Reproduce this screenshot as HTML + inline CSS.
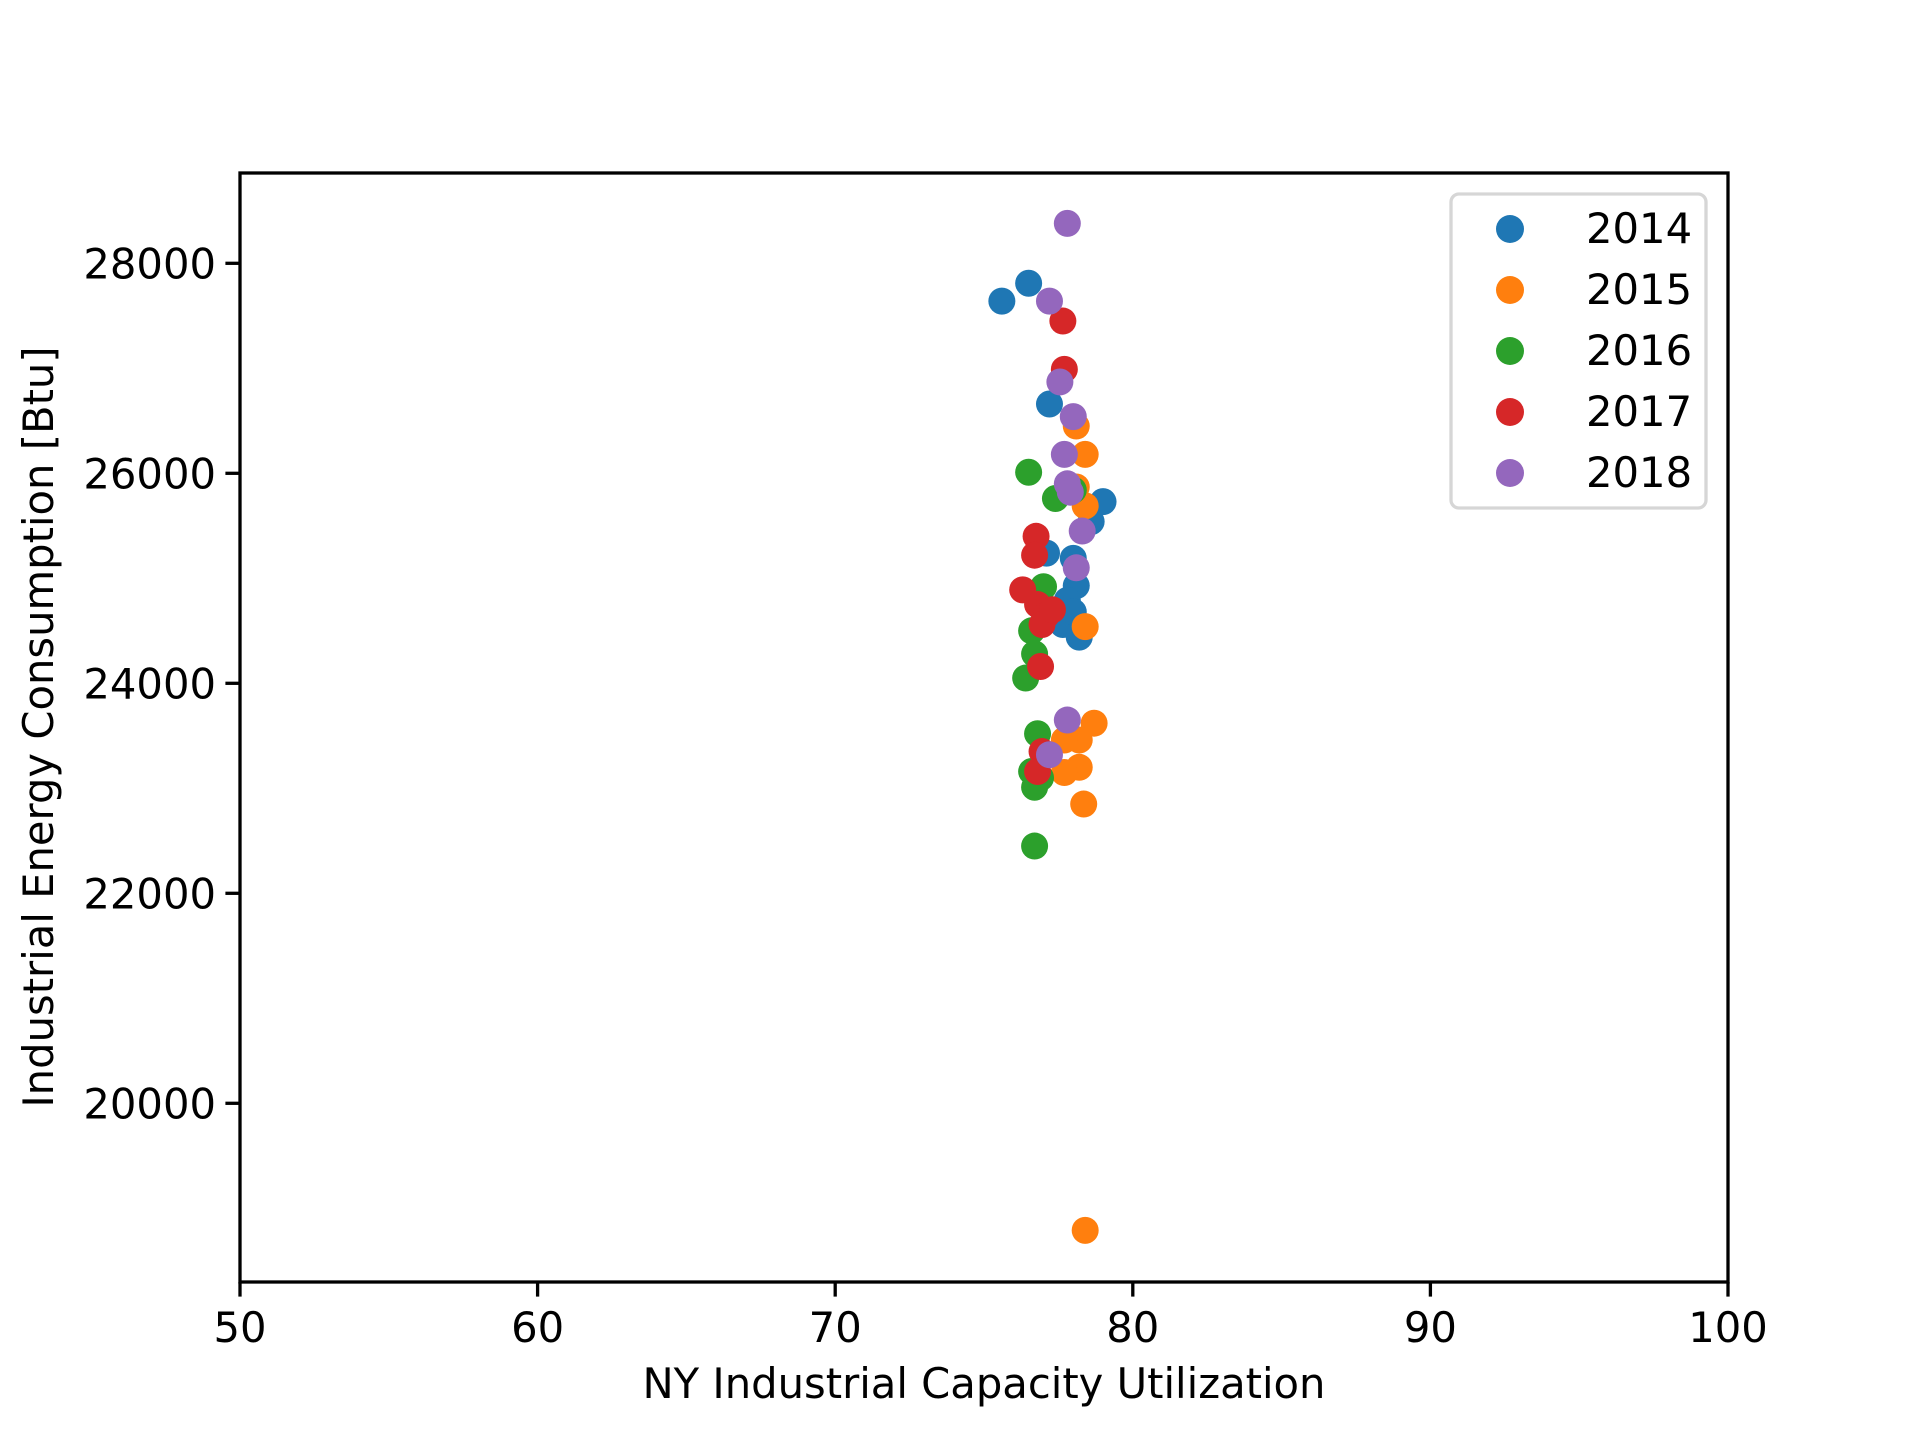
<!DOCTYPE html>
<html><head><meta charset="utf-8"><style>
html,body{margin:0;padding:0;background:#fff;}
svg{display:block;}
text{font-family:"DejaVu Sans","Liberation Sans",sans-serif;fill:#000;}
</style></head><body>
<svg id="chart" width="1920" height="1440" viewBox="0 0 1920 1440" xmlns="http://www.w3.org/2000/svg">
<rect width="1920" height="1440" fill="#fff"/>
<g id="marks"></g>
<g id="axes"></g>
<text x="984" y="1398" font-size="41.7" text-anchor="middle">NY Industrial Capacity Utilization</text>
<text transform="translate(53,727) rotate(-90)" font-size="41.7" text-anchor="middle">Industrial Energy Consumption [Btu]</text>
<g id="legend"></g>
</svg>
<script>
const seriesNames = ["2014","2015","2016","2017","2018"];
const seriesColors = ["#1f77b4","#ff7f0e","#2ca02c","#d62728","#9467bd"];
const x2014 = [75.6,76.5,77.2,79.0,78.6,77.1,78.0,78.1,77.8,77.65,78.2,78.0];
const y2014 = [27640,27810,26660,25730,25540,25240,25190,24930,24790,24560,24440,24680];
const x2015 = [78.1,78.4,78.4,78.1,78.4,78.7,78.2,77.7,78.2,77.7,78.35,78.4];
const y2015 = [26450,26180,25690,25870,24540,23620,23460,23460,23200,23150,22850,18790];
const x2016 = [76.5,77.4,78.0,77.0,76.6,76.7,76.4,76.8,76.6,76.9,76.7,76.7];
const y2016 = [26010,25760,25840,24920,24500,24280,24050,23520,23160,23100,23010,22450];
const x2017 = [77.65,77.7,76.75,76.7,76.3,76.8,77.1,76.95,77.3,76.9,76.95,76.8];
const y2017 = [27450,26990,25400,25220,24890,24750,24650,24560,24700,24160,23350,23160];
const x2018 = [77.8,77.2,77.55,78.0,77.7,77.8,77.9,78.3,78.1,77.8,77.2];
const y2018 = [28380,27640,26870,26540,26180,25900,25820,25450,25100,23650,23320];
const xTicks = [50,60,70,80,90,100];
const yTicks = [20000,22000,24000,26000,28000];

const NS="http://www.w3.org/2000/svg";
const L=240,R=1728,T=173,B=1282;
const xDomain=[50,100], yDomain=[18298,28860];
function sx(v){return L+(v-xDomain[0])/(xDomain[1]-xDomain[0])*(R-L);}
function sy(v){return B-(v-yDomain[0])/(yDomain[1]-yDomain[0])*(B-T);}
function mk(tag,attrs,parent){const e=document.createElementNS(NS,tag);for(const k in attrs)e.setAttribute(k,attrs[k]);parent.appendChild(e);return e;}

const marks=document.getElementById('marks');
const xs=[x2014,x2015,x2016,x2017,x2018], ys=[y2014,y2015,y2016,y2017,y2018];
xs.forEach((arr,s)=>{
  const g=mk('g',{},marks);
  
  
  arr.forEach((v,i)=>{
    const c=mk('circle',{cx:sx(v),cy:sy(ys[s][i]),r:13.5,fill:seriesColors[s]},g);
    
    
  });
});

const axes=document.getElementById('axes');
const frame=mk('rect',{x:L,y:T,width:R-L,height:B-T,fill:'none',stroke:'#000','stroke-width':3.3},axes);


xTicks.forEach(t=>{
  const x=sx(t);
  const ln=mk('line',{x1:x,x2:x,y1:B,y2:B+14.6,stroke:'#000','stroke-width':3.3},axes);
  
  
  const tx=mk('text',{x:x,y:B+60,'font-size':41.7,'text-anchor':'middle'},axes);
  tx.textContent=t;
  
  
});
yTicks.forEach(t=>{
  const y=sy(t);
  const ln=mk('line',{x1:L-14.6,x2:L,y1:y,y2:y,stroke:'#000','stroke-width':3.3},axes);
  
  
  const tx=mk('text',{x:L-24,y:y+15,'font-size':41.7,'text-anchor':'end'},axes);
  tx.textContent=t;
  
  
});

const leg=document.getElementById('legend');
const box=mk('rect',{x:1451,y:194,width:255,height:314,rx:8,fill:'#fff','fill-opacity':0.8,stroke:'#d6d6d6','stroke-width':3.3},leg);


seriesNames.forEach((n,i)=>{
  const y=229+i*61;
  const c=mk('circle',{cx:1510,cy:y,r:14,fill:seriesColors[i]},leg);
  
  
  const t=mk('text',{x:1586,y:y+14,'font-size':41.7},leg);
  t.textContent=n;
  
  
});
</script>
</body></html>
